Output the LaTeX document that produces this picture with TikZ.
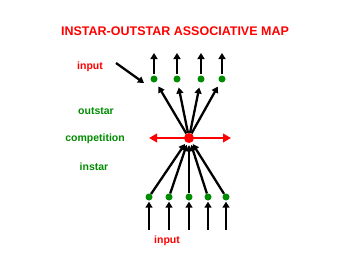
\documentclass[tikz,border=0pt]{standalone}
\usepackage{fontspec}
\setmainfont{Liberation Sans}
\usetikzlibrary{arrows.meta}
\definecolor{lblred}{RGB}{255,0,0}
\definecolor{lblgreen}{RGB}{0,140,0}
\begin{document}
\begin{tikzpicture}[x=1pt,y=-1pt,
  gdot/.style={circle,fill=lblgreen,inner sep=0pt,minimum size=7pt},
  rdot/.style={circle,fill=lblred,inner sep=0pt,minimum size=10pt},
  conn/.style={line width=2.3pt,-{Triangle[length=6pt,width=7pt]}},
  rconn/.style={line width=2.3pt,red,{Triangle[length=8pt,width=8.5pt]}-{Triangle[length=8pt,width=8.5pt]}},
  redlbl/.style={text=lblred,font=\bfseries\fontsize{10.5}{12}\selectfont},
  greenlbl/.style={text=lblgreen,font=\bfseries\fontsize{10.5}{12}\selectfont},
  titlelbl/.style={text=lblred,font=\bfseries\fontsize{12.5}{14}\selectfont}]
\useasboundingbox (0,0) rectangle (350,270);
\node[titlelbl] (title) at (175,31) {INSTAR-OUTSTAR ASSOCIATIVE MAP};
\node[redlbl] (intop) at (90,67) {input};
\node[greenlbl] (outstar) at (96,111) {outstar};
\node[greenlbl] (comp) at (95,139) {competition};
\node[greenlbl] (instar) at (94,167) {instar};
\node[redlbl] (inbot) at (167,241) {input};
% competition arrow
\coordinate (cl) at (149,138);
\coordinate (cr) at (231,138);
\draw[rconn] (cl) -- (cr);
% top dots
\node[gdot] (t1) at (154,79) {};
\node[gdot] (t2) at (177,79) {};
\node[gdot] (t3) at (201,79) {};
\node[gdot] (t4) at (222,79) {};
% bottom dots
\node[gdot] (b1) at (149,197) {};
\node[gdot] (b2) at (169,197) {};
\node[gdot] (b3) at (189,197) {};
\node[gdot] (b4) at (208,197) {};
\node[gdot] (b5) at (226,197) {};
% red winner
\node[rdot] (w) at (189,138) {};
% outputs above top dots
\foreach \i/\x in {1/154,2/177,3/201,4/222}{
  \coordinate (o\i) at (\x,53);
  \draw[conn,shorten <=1pt] (t\i) -- (o\i);
}
% input arrow top
\coordinate (ia) at (116,63);
\draw[conn] (ia) -- (144,83);
% outstar connections
\foreach \i in {1,...,4}{
  \draw[conn,shorten >=5pt] (w) -- (t\i);
}
% instar connections
\foreach \i in {1,...,5}{
  \draw[conn,shorten >=2pt] (b\i) -- (w);
}
% inputs below bottom dots
\foreach \i/\x in {1/149,2/169,3/189,4/208,5/226}{
  \coordinate (u\i) at (\x,230);
  \draw[conn,shorten >=1pt] (u\i) -- (b\i);
}
\end{tikzpicture}
\end{document}
